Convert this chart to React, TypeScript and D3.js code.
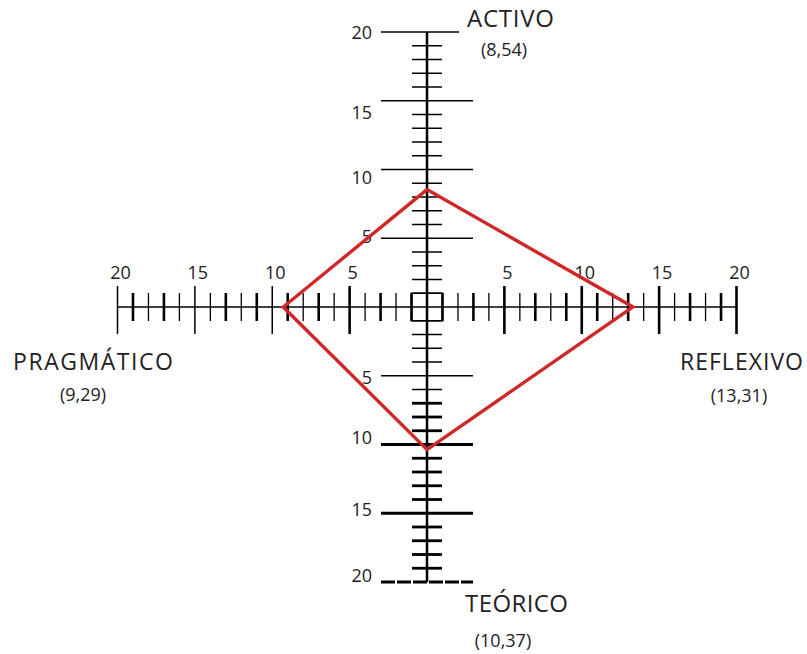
import { useEffect, useRef } from 'react'
import * as d3 from 'd3'

// style names and their scores (from the picture)
const styleNames = ['ACTIVO', 'REFLEXIVO', 'TEÓRICO', 'PRAGMÁTICO']
const scoreLabels = ['(8,54)', '(13,31)', '(10,37)', '(9,29)']
const scores = [8.54, 13.31, 10.37, 9.29]
// unit vectors for each arm: up, right, down, left
const directions = [[0, 1], [1, 0], [0, -1], [-1, 0]]
const majorTicks = [5, 10, 15, 20]

const WIDTH = 807
const HEIGHT = 654
const FONT = '"Open Sans", "Noto Sans", sans-serif'

export default function App() {
  const svgRef = useRef<SVGSVGElement>(null)

  useEffect(() => {
    const svg = d3.select(svgRef.current)
    svg.selectAll('*').remove()

    const x = d3.scaleLinear().domain([-20, 20]).range([117.5, 736.5])
    const y = d3.scaleLinear().domain([-20, 20]).range([582, 32])
    const cx = x(0)
    const cy = y(0)
    const minor = d3.range(-19, 20).filter(v => v !== 0 && v % 5 !== 0)

    const g = svg.append('g')

    // horizontal axis line
    g.append('line')
      .attr('x1', x(-20)).attr('x2', x(20))
      .attr('y1', cy).attr('y2', cy)
      .attr('stroke', '#000').attr('stroke-width', 1.5)

    // horizontal minor ticks
    g.selectAll('.hminor')
      .data(minor)
      .enter()
      .append('line')
      .attr('x1', d => x(d)).attr('x2', d => x(d))
      .attr('y1', cy - 14).attr('y2', cy + 14)
      .attr('stroke', '#000')
      .attr('stroke-width', d => (Math.abs(d) % 2 === 1 ? 2.6 : 1.3))

    // horizontal major ticks
    const hMajor = majorTicks.flatMap(t => [-t, t])
    g.selectAll('.hmajor')
      .data(hMajor)
      .enter()
      .append('line')
      .attr('x1', d => x(d)).attr('x2', d => x(d))
      .attr('y1', cy - 21).attr('y2', cy + 27)
      .attr('stroke', '#000')
      .attr('stroke-width', d => (d < -5 ? 1.5 : 2.6))

    // vertical axis line
    g.append('line')
      .attr('x1', cx).attr('x2', cx)
      .attr('y1', y(20)).attr('y2', y(-20))
      .attr('stroke', '#000').attr('stroke-width', 2.5)

    // vertical minor ticks
    g.selectAll('.vminor')
      .data(minor)
      .enter()
      .append('line')
      .attr('x1', cx - 15).attr('x2', cx + 15)
      .attr('y1', d => y(d)).attr('y2', d => y(d))
      .attr('stroke', '#000')
      .attr('stroke-width', d => (d <= -7 ? 2.8 : 1.5))

    // vertical major ticks
    const vMajor = majorTicks.flatMap(t => [t, -t])
    g.selectAll('.vmajor')
      .data(vMajor)
      .enter()
      .append('line')
      .attr('x1', cx - 46)
      .attr('x2', d => (d === 20 ? cx + 32 : cx + 46))
      .attr('y1', d => y(d)).attr('y2', d => y(d))
      .attr('stroke', '#000')
      .attr('stroke-width', d => (d <= -10 ? 2.8 : 1.5))
      .attr('stroke-dasharray', d => (d === -20 ? '14,2' : null))

    // little square around the origin
    g.append('rect')
      .attr('x', x(-1)).attr('y', y(1))
      .attr('width', x(1) - x(-1)).attr('height', y(-1) - y(1))
      .attr('fill', 'none').attr('stroke', '#000').attr('stroke-width', 1.5)

    // tick numbers on the vertical axis
    const vLabelOffset: Record<number, number> = { 20: 7, 15: 18, 10: 14, 5: 5, [-5]: 8, [-10]: -1, [-15]: 3, [-20]: 0 }
    g.selectAll('.vlabel')
      .data(vMajor)
      .enter()
      .append('text')
      .attr('x', cx - 55)
      .attr('y', d => y(d) + vLabelOffset[d])
      .attr('text-anchor', 'end')
      .attr('font-family', FONT)
      .attr('font-size', 18)
      .attr('fill', '#222')
      .text(d => Math.abs(d))

    // tick numbers on the horizontal axis
    g.selectAll('.hlabel')
      .data(hMajor)
      .enter()
      .append('text')
      .attr('x', d => x(d) + 3)
      .attr('y', cy - 28)
      .attr('text-anchor', 'middle')
      .attr('font-family', FONT)
      .attr('font-size', 18)
      .attr('fill', '#222')
      .text(d => Math.abs(d))

    // red profile polygon
    const pts = scores.map((s, i) => [x(directions[i][0] * s), y(directions[i][1] * s)] as [number, number])
    g.append('path')
      .attr('d', d3.line().curve(d3.curveLinearClosed)(pts))
      .attr('fill', 'none')
      .attr('stroke', '#cf2828')
      .attr('stroke-width', 3.4)
      .attr('stroke-linejoin', 'miter')

    // style names + score labels
    const namePos = [
      { nx: 467, ny: 27, w: 87, sx: 504, sy: 56 },
      { nx: 680, ny: 370, w: 123, sx: 739, sy: 402 },
      { nx: 465, ny: 612, w: 103, sx: 503, sy: 647 },
      { nx: 13, ny: 370, w: 160, sx: 83, sy: 401 }
    ]
    styleNames.forEach((name, i) => {
      const p = namePos[i]
      g.append('text')
        .attr('x', p.nx).attr('y', p.ny)
        .attr('font-family', FONT)
        .attr('font-size', i === 0 || i === 2 ? 24 : 23)
        .attr('textLength', p.w)
        .attr('lengthAdjust', 'spacing')
        .attr('fill', '#222')
        .text(name)
      g.append('text')
        .attr('x', p.sx).attr('y', p.sy)
        .attr('text-anchor', 'middle')
        .attr('font-family', FONT)
        .attr('font-size', 18)
        .attr('fill', '#222')
        .text(scoreLabels[i])
    })
  }, [])

  return (
    <svg
      ref={svgRef}
      width={WIDTH}
      height={HEIGHT}
      style={{ position: 'absolute', top: 0, left: 0, background: '#fff' }}
    />
  )
}
